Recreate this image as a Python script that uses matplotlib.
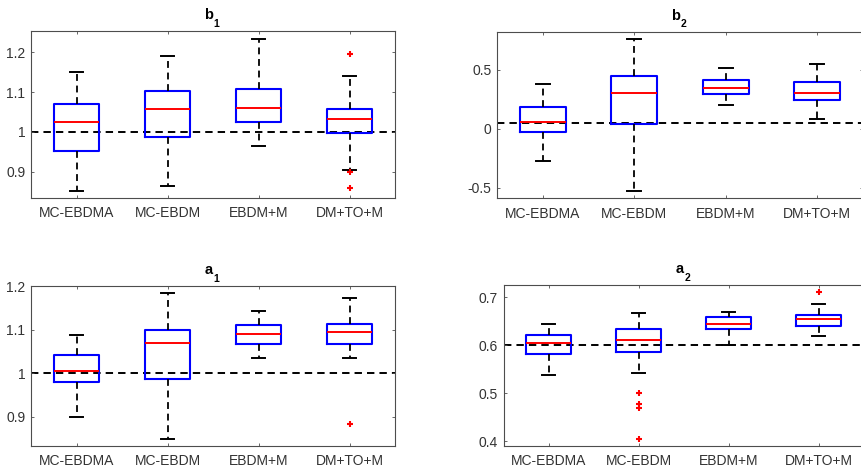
import matplotlib
matplotlib.use("Agg")
import matplotlib.pyplot as plt

plt.rcParams['font.family'] = ['Liberation Sans', 'DejaVu Sans']

methods = ["MC-EBDMA", "MC-EBDM", "EBDM+M", "DM+TO+M"]

# Box statistics per method: lower whisker, Q1, median, Q3, upper whisker
b1_low = [0.851, 0.865, 0.964, 0.904]
b1_q1 = [0.952, 0.988, 1.025, 0.998]
b1_med = [1.026, 1.059, 1.060, 1.032]
b1_q3 = [1.071, 1.103, 1.109, 1.058]
b1_high = [1.150, 1.192, 1.234, 1.142]
b1_out = [[], [], [], [1.196, 0.900, 0.859]]
b1_true = 1.0

b2_low = [-0.272, -0.528, 0.200, 0.085]
b2_q1 = [-0.029, 0.045, 0.296, 0.248]
b2_med = [0.062, 0.305, 0.344, 0.307]
b2_q3 = [0.183, 0.452, 0.412, 0.395]
b2_high = [0.381, 0.763, 0.520, 0.554]
b2_out = [[], [], [], []]
b2_true = 0.05

a1_low = [0.900, 0.849, 1.034, 1.034]
a1_q1 = [0.979, 0.987, 1.067, 1.067]
a1_med = [1.006, 1.070, 1.090, 1.094]
a1_q3 = [1.042, 1.099, 1.111, 1.112]
a1_high = [1.088, 1.185, 1.143, 1.173]
a1_out = [[], [], [], [0.884]]
a1_true = 1.0

a2_low = [0.538, 0.543, 0.601, 0.620]
a2_q1 = [0.582, 0.585, 0.633, 0.641]
a2_med = [0.604, 0.610, 0.644, 0.654]
a2_q3 = [0.622, 0.633, 0.658, 0.664]
a2_high = [0.645, 0.667, 0.670, 0.687]
a2_out = [[], [0.500, 0.477, 0.469, 0.405], [], [0.710]]
a2_true = 0.6

panels = [
    dict(name='b', sub='1', low=b1_low, q1=b1_q1, med=b1_med, q3=b1_q3,
         high=b1_high, out=b1_out, true=b1_true, ylim=(0.834, 1.254),
         ticks=[0.9, 1.0, 1.1, 1.2], labels=['0.9', '1', '1.1', '1.2'],
         pos=[31, 31, 395, 198]),
    dict(name='b', sub='2', low=b2_low, q1=b2_q1, med=b2_med, q3=b2_q3,
         high=b2_high, out=b2_out, true=b2_true, ylim=(-0.59, 0.825),
         ticks=[-0.5, 0, 0.5], labels=['-0.5', '0', '0.5'],
         pos=[497, 31.7, 863, 198.3]),
    dict(name='a', sub='1', low=a1_low, q1=a1_q1, med=a1_med, q3=a1_q3,
         high=a1_high, out=a1_out, true=a1_true, ylim=(0.833, 1.2),
         ticks=[0.9, 1.0, 1.1, 1.2], labels=['0.9', '1', '1.1', '1.2'],
         pos=[31, 286, 395, 446]),
    dict(name='a', sub='2', low=a2_low, q1=a2_q1, med=a2_med, q3=a2_q3,
         high=a2_high, out=a2_out, true=a2_true, ylim=(0.39, 0.725),
         ticks=[0.4, 0.5, 0.6, 0.7], labels=['0.4', '0.5', '0.6', '0.7'],
         pos=[503.5, 285.3, 863.7, 446]),
]

W, H = 861, 470
fig = plt.figure(figsize=(W / 100, H / 100), dpi=100)

axis_color = '#4d4d4d'
text_color = '#333333'
dash = (0, (3.8, 2.6))

for p in panels:
    x0, y0, x1, y1 = p['pos']
    ax = fig.add_axes([x0 / W, 1 - y1 / H, (x1 - x0) / W, (y1 - y0) / H])
    stats = []
    for i, name in enumerate(methods):
        stats.append(dict(label=name, whislo=p['low'][i], q1=p['q1'][i],
                          med=p['med'][i], q3=p['q3'][i],
                          whishi=p['high'][i], fliers=p['out'][i]))
    ax.axhline(p['true'], color='black', lw=1.4, linestyle=dash, zorder=1)
    ax.bxp(stats, positions=[1, 2, 3, 4], widths=0.5, capwidths=0.15,
           showfliers=True,
           boxprops=dict(color='#0000ff', lw=1.5),
           medianprops=dict(color='#ff0000', lw=1.4),
           whiskerprops=dict(color='black', lw=1.3, linestyle=dash),
           capprops=dict(color='black', lw=1.4),
           flierprops=dict(marker='+', markeredgecolor='#ff0000',
                           markersize=5, markeredgewidth=1.5, linestyle='none'),
           zorder=2)
    ax.set_xlim(0.5, 4.5)
    ax.set_ylim(*p['ylim'])
    ax.set_yticks(p['ticks'])
    ax.set_yticklabels(p['labels'])
    ax.set_xticks([1, 2, 3, 4])
    ax.set_xticklabels(methods)
    ax.tick_params(direction='in', length=2.5, width=0.6, colors=axis_color,
                   labelcolor=text_color, labelsize=10, top=True, right=True,
                   pad=4)
    ax.tick_params(axis='x', pad=6)
    for s in ax.spines.values():
        s.set_color(axis_color)
        s.set_linewidth(0.8)
    # Title: bold letter with a lowered bold subscript
    ax.annotate(p['name'], xy=(0.5, 1.0), xycoords='axes fraction',
                xytext=(-3.0, 8.6), textcoords='offset points',
                ha='center', va='baseline', fontsize=10.5,
                fontweight='bold', color='black')
    ax.annotate(p['sub'], xy=(0.5, 1.0), xycoords='axes fraction',
                xytext=(0.6, 3.1), textcoords='offset points',
                ha='left', va='baseline', fontsize=7.5,
                fontweight='bold', color='black')

fig.savefig('out.png', dpi=100)
